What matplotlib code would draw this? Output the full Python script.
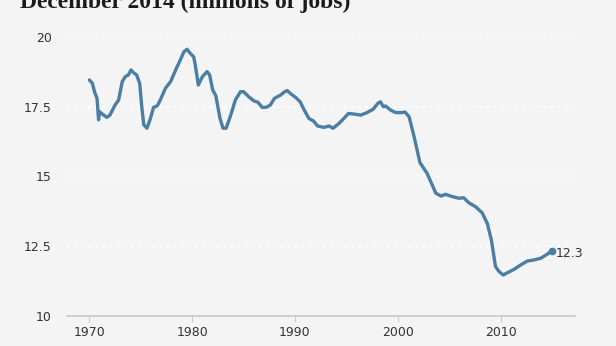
import matplotlib.pyplot as plt

# Manufacturing jobs, millions
years = [1970.0, 1970.3, 1970.5, 1970.75, 1970.9, 1971.0, 1971.4, 1971.7, 1972.0, 1972.5,
         1972.85, 1973.2, 1973.5, 1973.8, 1974.05, 1974.3, 1974.6, 1974.9, 1975.1, 1975.3,
         1975.6, 1975.9, 1976.25, 1976.6, 1976.9, 1977.4, 1977.9, 1978.4, 1978.85, 1979.2,
         1979.5, 1979.8, 1980.15, 1980.3, 1980.6, 1981.0, 1981.45, 1981.7, 1982.0, 1982.3,
         1982.7, 1983.0, 1983.3, 1983.7, 1984.2, 1984.7, 1985.0, 1985.5, 1986.0, 1986.4,
         1986.8, 1987.2, 1987.6, 1988.0, 1988.6, 1989.0, 1989.25, 1989.6, 1990.05, 1990.5,
         1990.9, 1991.35, 1991.8, 1992.2, 1992.8, 1993.3, 1993.7, 1994.3, 1994.75, 1995.2,
         1995.7, 1996.4, 1997.0, 1997.6, 1998.05, 1998.3, 1998.6, 1998.8, 1999.3, 1999.8,
         2000.4, 2000.7, 2001.1, 2001.6, 2002.15, 2002.85, 2003.7, 2004.2, 2004.65, 2005.3,
         2005.95, 2006.4, 2006.9, 2007.55, 2008.2, 2008.7, 2009.1, 2009.5, 2009.85, 2010.25,
         2010.65, 2011.3, 2011.95, 2012.6, 2013.25, 2013.9, 2014.55, 2014.95]
jobs = [18.46, 18.34, 18.04, 17.80, 17.03, 17.32, 17.20, 17.12, 17.20, 17.56,
        17.74, 18.40, 18.58, 18.64, 18.82, 18.72, 18.64, 18.34, 17.50, 16.85,
        16.73, 17.03, 17.48, 17.53, 17.74, 18.16, 18.40, 18.82, 19.18, 19.47,
        19.56, 19.42, 19.29, 19.00, 18.28, 18.58, 18.76, 18.64, 18.10, 17.90,
        17.10, 16.73, 16.73, 17.14, 17.74, 18.04, 18.04, 17.86, 17.71, 17.66,
        17.48, 17.48, 17.56, 17.80, 17.92, 18.04, 18.08, 17.96, 17.84, 17.68,
        17.38, 17.08, 16.99, 16.81, 16.76, 16.81, 16.73, 16.91, 17.08, 17.26,
        17.24, 17.20, 17.29, 17.41, 17.62, 17.68, 17.50, 17.53, 17.38, 17.29,
        17.29, 17.31, 17.14, 16.40, 15.50, 15.11, 14.40, 14.30, 14.36, 14.28,
        14.22, 14.24, 14.06, 13.92, 13.70, 13.32, 12.72, 11.77, 11.59, 11.47,
        11.55, 11.67, 11.83, 11.97, 12.01, 12.07, 12.22, 12.33]
y_ticks = [10, 12.5, 15, 17.5, 20]
y_labels = ["10", "12.5", "15", "17.5", "20"]
x_ticks = [1970, 1980, 1990, 2000, 2010]

bg = "#f4f4f4"
blue = "#4a7ea5"

fig = plt.figure(figsize=(6.16, 3.46), dpi=100, facecolor=bg)
ax = fig.add_axes([67 / 616, 1 - 316 / 346, 508 / 616, 279 / 346])
ax.set_facecolor(bg)

# Title is partly cut off at the top in the reference
fig.text(20 / 616, 1 - 8 / 346, "December 2014 (millions of jobs)",
         fontsize=17, fontweight="bold", family="Liberation Serif", color="#1a1a1a")

for yv in y_ticks[1:]:
    ax.axhline(yv, color="white", lw=1.6, ls=(0, (1, 2.2)), zorder=1)

ax.plot(years, jobs, color=blue, lw=2.4, solid_capstyle="round", zorder=3)
ax.plot(years[-1], jobs[-1], "o", color=blue, ms=4.5, zorder=4)
ax.annotate(f"{jobs[-1]:.1f}", (years[-1], jobs[-1]), xytext=(3, -1.5),
            textcoords="offset points", va="center", ha="left",
            fontsize=9, color="#333333")

ax.set_xlim(1967.83, 2017.23)
ax.set_ylim(10, 20)
ax.set_yticks(y_ticks)
ax.set_yticklabels(y_labels)
ax.set_xticks(x_ticks)

for s in ["top", "right", "left"]:
    ax.spines[s].set_visible(False)
ax.spines["bottom"].set_color("#c8c8c8")
ax.spines["bottom"].set_linewidth(1.2)
ax.tick_params(axis="y", length=0, pad=11, labelsize=9, labelcolor="#333333")
ax.tick_params(axis="x", length=4, color="#c8c8c8", pad=3, labelsize=9, labelcolor="#333333")

fig.savefig("out.png", dpi=100, facecolor=bg)
